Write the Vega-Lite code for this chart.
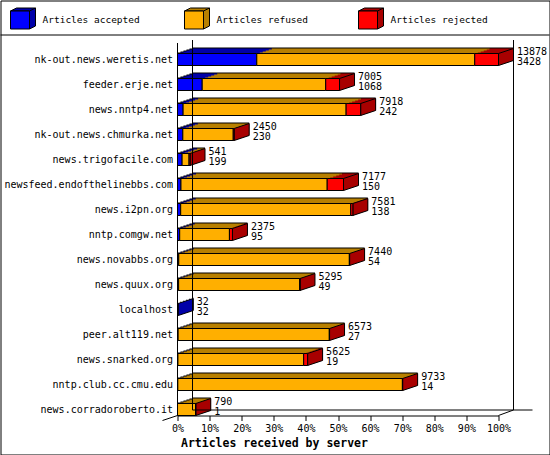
{
"$schema": "https://vega.github.io/schema/vega-lite/v6.json",
"autosize": {"type": "none"},
"padding": {"left": 0.5, "top": 0.5, "right": 0.5, "bottom": 0.5},
"width": 549,
"height": 454,
"config": {"view": {"stroke": "black", "strokeWidth": 1}, "font": "DejaVu Sans Mono"},
"datasets": {
 "servers": [
  {"server":"nk-out.news.weretis.net","total":13878,"accepted":3428,"refused":9423,"rejected":1027},
  {"server":"feeder.erje.net","total":7005,"accepted":1068,"refused":5340,"rejected":597},
  {"server":"news.nntp4.net","total":7918,"accepted":242,"refused":7048,"rejected":628},
  {"server":"nk-out.news.chmurka.net","total":2450,"accepted":230,"refused":2180,"rejected":40},
  {"server":"news.trigofacile.com","total":541,"accepted":199,"refused":300,"rejected":42},
  {"server":"newsfeed.endofthelinebbs.com","total":7177,"accepted":150,"refused":6322,"rejected":705},
  {"server":"news.i2pn.org","total":7581,"accepted":138,"refused":7353,"rejected":90},
  {"server":"nntp.comgw.net","total":2375,"accepted":95,"refused":2150,"rejected":130},
  {"server":"news.novabbs.org","total":7440,"accepted":54,"refused":7376,"rejected":10},
  {"server":"news.quux.org","total":5295,"accepted":49,"refused":5236,"rejected":10},
  {"server":"localhost","total":32,"accepted":32,"refused":0,"rejected":0},
  {"server":"peer.alt119.net","total":6573,"accepted":27,"refused":6536,"rejected":10},
  {"server":"news.snarked.org","total":5625,"accepted":19,"refused":5436,"rejected":170},
  {"server":"nntp.club.cc.cmu.edu","total":9733,"accepted":14,"refused":9709,"rejected":10},
  {"server":"news.corradoroberto.it","total":790,"accepted":1,"refused":779,"rejected":10}
 ],
 "legend": [
  {"type":"accepted","label":"Articles accepted"},
  {"type":"refused","label":"Articles refused"},
  {"type":"rejected","label":"Articles rejected"}
 ]
},
"layer": [
 {
  "data": {"name": "servers"},
  "layer": [
   {"mark": {"type": "bar", "color": "black", "xOffset": 15, "yOffset": -6},
    "encoding": {
     "y": {"field": "server", "type": "nominal", "sort": null,
      "axis": {"orient": "left", "offset": -177, "domain": false, "ticks": false, "labelPadding": 5, "labelFont": "DejaVu Sans Mono", "labelFontSize": 10, "labelColor": "black", "labelLimit": 300, "title": null, "grid": false},
      "scale": {"domain": ["nk-out.news.weretis.net","feeder.erje.net","news.nntp4.net","nk-out.news.chmurka.net","news.trigofacile.com","newsfeed.endofthelinebbs.com","news.i2pn.org","nntp.comgw.net","news.novabbs.org","news.quux.org","localhost","peer.alt119.net","news.snarked.org","nntp.club.cc.cmu.edu","news.corradoroberto.it"], "range": [53, 415], "paddingInner": 0.52, "paddingOuter": 0}},
     "x": {"field": "total", "type": "quantitative",
      "axis": {"orient": "bottom", "offset": -39, "values": [0, 1387.8, 2775.6, 4163.4, 5551.2, 6939, 8326.8, 9714.6, 11102.4, 12490.2, 13878],
       "labelExpr": "round(datum.value / 138.78) + '%'", "grid": false, "labelFlush": false, "labelOverlap": false,
       "labelFont": "DejaVu Sans Mono", "labelFontSize": 10, "labelColor": "black", "labelPadding": 3,
       "tickColor": "black", "tickSize": 5, "domainColor": "black",
       "title": "Articles received by server", "titleFont": "DejaVu Sans Mono", "titleFontSize": 11.5, "titleFontWeight": "bold", "titleColor": "black",
       "titleAnchor": "start", "titleAlign": "left", "titleX": 180, "titlePadding": 4},
      "scale": {"domain": [0, 13878], "range": [177, 498], "nice": false}}}},
   {"mark": {"type": "bar", "color": "black", "xOffset": 12, "yOffset": -5},
    "encoding": {"y": {"field": "server", "type": "nominal", "sort": null}, "x": {"field": "total", "type": "quantitative"}}},
   {"mark": {"type": "bar", "color": "black", "xOffset": 9, "yOffset": -4},
    "encoding": {"y": {"field": "server", "type": "nominal", "sort": null}, "x": {"field": "total", "type": "quantitative"}}},
   {"mark": {"type": "bar", "color": "black", "xOffset": 6, "yOffset": -3},
    "encoding": {"y": {"field": "server", "type": "nominal", "sort": null}, "x": {"field": "total", "type": "quantitative"}}},
   {"mark": {"type": "bar", "color": "black", "xOffset": 3, "yOffset": -2},
    "encoding": {"y": {"field": "server", "type": "nominal", "sort": null}, "x": {"field": "total", "type": "quantitative"}}},
   {"mark": {"type": "bar", "color": "black", "xOffset": 0, "yOffset": -1},
    "encoding": {"y": {"field": "server", "type": "nominal", "sort": null}, "x": {"field": "total", "type": "quantitative"}}},
   {"transform": [{"fold": ["accepted","refused","rejected"], "as": ["type","count"]}, {"filter": "datum.count > 0"}],
    "mark": {"type": "bar", "xOffset": 15, "yOffset": -5},
    "encoding": {"y": {"field": "server", "type": "nominal", "sort": null},
     "x": {"field": "count", "type": "quantitative", "stack": "zero"},
     "order": {"field": "type", "type": "nominal"},
     "color": {"field": "type", "type": "nominal", "legend": null, "scale": {"domain": ["accepted","refused","rejected"], "range": ["#0000a8","#b88000","#a80000"]}}}},
   {"transform": [{"fold": ["accepted","refused","rejected"], "as": ["type","count"]}, {"filter": "datum.count > 0"}],
    "mark": {"type": "bar", "xOffset": 12, "yOffset": -4},
    "encoding": {"y": {"field": "server", "type": "nominal", "sort": null},
     "x": {"field": "count", "type": "quantitative", "stack": "zero"},
     "order": {"field": "type", "type": "nominal"},
     "color": {"field": "type", "type": "nominal", "legend": null, "scale": {"domain": ["accepted","refused","rejected"], "range": ["#0000a8","#b88000","#a80000"]}}}},
   {"transform": [{"fold": ["accepted","refused","rejected"], "as": ["type","count"]}, {"filter": "datum.count > 0"}],
    "mark": {"type": "bar", "xOffset": 9, "yOffset": -3},
    "encoding": {"y": {"field": "server", "type": "nominal", "sort": null},
     "x": {"field": "count", "type": "quantitative", "stack": "zero"},
     "order": {"field": "type", "type": "nominal"},
     "color": {"field": "type", "type": "nominal", "legend": null, "scale": {"domain": ["accepted","refused","rejected"], "range": ["#0000a8","#b88000","#a80000"]}}}},
   {"transform": [{"fold": ["accepted","refused","rejected"], "as": ["type","count"]}, {"filter": "datum.count > 0"}],
    "mark": {"type": "bar", "xOffset": 6, "yOffset": -2},
    "encoding": {"y": {"field": "server", "type": "nominal", "sort": null},
     "x": {"field": "count", "type": "quantitative", "stack": "zero"},
     "order": {"field": "type", "type": "nominal"},
     "color": {"field": "type", "type": "nominal", "legend": null, "scale": {"domain": ["accepted","refused","rejected"], "range": ["#0000a8","#b88000","#a80000"]}}}},
   {"transform": [{"fold": ["accepted","refused","rejected"], "as": ["type","count"]}, {"filter": "datum.count > 0"}],
    "mark": {"type": "bar", "xOffset": 3, "yOffset": -1},
    "encoding": {"y": {"field": "server", "type": "nominal", "sort": null},
     "x": {"field": "count", "type": "quantitative", "stack": "zero"},
     "order": {"field": "type", "type": "nominal"},
     "color": {"field": "type", "type": "nominal", "legend": null, "scale": {"domain": ["accepted","refused","rejected"], "range": ["#0000a8","#b88000","#a80000"]}}}},
   {"transform": [{"fold": ["accepted","refused","rejected"], "as": ["type","count"]}, {"filter": "datum.count > 0"}, {"window": [{"op": "row_number", "as": "rk"}], "groupby": ["server"], "sort": [{"field": "type", "order": "descending"}]}, {"filter": "datum.rk == 1"}],
    "mark": {"type": "point", "shape": "M0,-6L15,-11L15,1L0,6Z", "size": 4, "filled": true, "opacity": 1, "stroke": "black", "strokeWidth": 1},
    "encoding": {"y": {"field": "server", "type": "nominal", "sort": null},
     "x": {"field": "total", "type": "quantitative"},
     "color": {"field": "type", "type": "nominal", "legend": null, "scale": {"domain": ["accepted","refused","rejected"], "range": ["#0000a8","#b88000","#a80000"]}}}},
   {"transform": [{"fold": ["accepted","refused","rejected"], "as": ["type","count"]}, {"filter": "datum.count > 0"}],
    "mark": {"type": "bar", "stroke": "black", "strokeWidth": 1},
    "encoding": {"y": {"field": "server", "type": "nominal", "sort": null},
     "x": {"field": "count", "type": "quantitative", "stack": "zero"},
     "order": {"field": "type", "type": "nominal"},
     "color": {"field": "type", "type": "nominal", "legend": null, "scale": {"domain": ["accepted","refused","rejected"], "range": ["#0000ff","#ffaf00","#ff0000"]}}}},
   {"mark": {"type": "text", "align": "left", "baseline": "alphabetic", "dx": 18.5, "yOffset": -5, "fontSize": 10, "font": "DejaVu Sans Mono", "color": "black"},
    "encoding": {"y": {"field": "server", "type": "nominal", "sort": null},
     "x": {"field": "total", "type": "quantitative"}, "text": {"field": "total", "type": "quantitative", "format": "d"}}},
   {"mark": {"type": "text", "align": "left", "baseline": "alphabetic", "dx": 18.5, "yOffset": 5.5, "fontSize": 10, "font": "DejaVu Sans Mono", "color": "black"},
    "encoding": {"y": {"field": "server", "type": "nominal", "sort": null},
     "x": {"field": "total", "type": "quantitative"}, "text": {"field": "accepted", "type": "quantitative", "format": "d"}}},
   {"transform": [{"aggregate": [{"op": "max", "field": "total", "as": "maxTotal"}]}],
    "mark": {"type": "point", "shape": "M-321,-184.5L-321,188M-306,-187.5L-306,182.5M15,-187.5L15,182.5M-306,182.5L34,182.5M0,188L15,182.5M-336,193L-321,188M-498,-192.5L51,-192.5", "size": 4, "filled": false, "opacity": 1, "stroke": "black", "strokeWidth": 1},
    "encoding": {"x": {"field": "maxTotal", "type": "quantitative"}}}
  ],
  "resolve": {"scale": {"color": "independent"}}
 },
 {
  "data": {"name": "legend"},
  "encoding": {
   "x": {"field": "type", "type": "nominal", "axis": null, "scale": {"type": "point", "padding": 0, "domain": ["accepted","refused","rejected"], "range": [19.5, 367.5]}},
   "y": {"field": "type", "type": "nominal", "axis": null, "scale": {"type": "point", "padding": 0, "domain": ["accepted","refused","rejected"], "range": [17.5, 17.5]}}},
  "layer": [
   {"mark": {"type": "point", "shape": "M-9.5,-7L-3.5,-10L15.5,-10L15.5,8L9.5,11L9.5,-7Z", "size": 4, "filled": true, "opacity": 1, "stroke": "black", "strokeWidth": 1},
    "encoding": {"color": {"field": "type", "type": "nominal", "legend": null, "scale": {"domain": ["accepted","refused","rejected"], "range": ["#0000a8","#b88000","#a80000"]}}}},
   {"mark": {"type": "point", "shape": "M9.5,-7L15.5,-10", "size": 4, "filled": false, "opacity": 1, "stroke": "black", "strokeWidth": 1}},
   {"mark": {"type": "point", "shape": "M-9.5,-7L9.5,-7L9.5,11L-9.5,11Z", "size": 4, "filled": true, "opacity": 1, "stroke": "black", "strokeWidth": 1},
    "encoding": {"color": {"field": "type", "type": "nominal", "legend": null, "scale": {"domain": ["accepted","refused","rejected"], "range": ["#0000ff","#ffaf00","#ff0000"]}}}},
   {"mark": {"type": "text", "align": "left", "baseline": "alphabetic", "dx": 22.5, "yOffset": 5, "fontSize": 9.5, "font": "DejaVu Sans Mono", "color": "black"},
    "encoding": {"text": {"field": "label", "type": "nominal"}}}
  ],
  "resolve": {"scale": {"color": "independent"}}
 }
],
"resolve": {"scale": {"x": "independent", "y": "independent", "color": "independent"}, "axis": {"x": "independent", "y": "independent"}}
}
